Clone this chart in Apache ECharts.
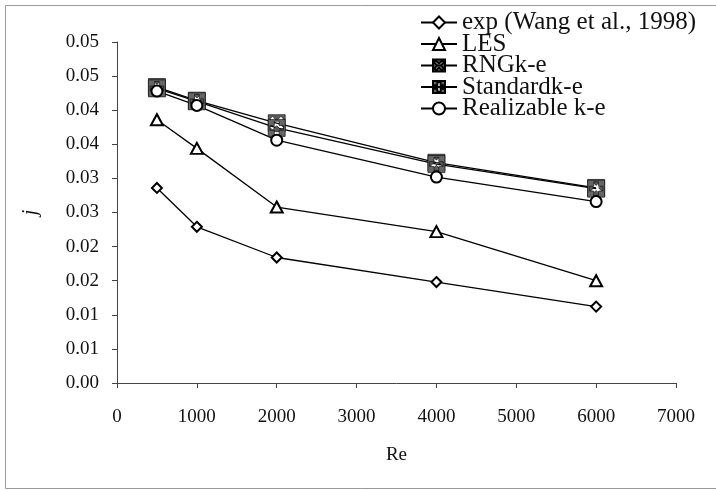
<!DOCTYPE html>
<html>
<head>
<meta charset="utf-8">
<script src="https://cdn.jsdelivr.net/npm/echarts@6/dist/echarts.min.js"></script>
<style>
  html, body { margin: 0; padding: 0; background: #fff; }
  #myChart { width: 716px; height: 491px; }
</style>
</head>
<body>
<div id="myChart"></div>
<script>
// Re values (x)
const reValues = [500, 1000, 2000, 4000, 6000];
// j for each model
const expJ = [0.0286, 0.0229, 0.0184, 0.0148, 0.0112];
const lesJ = [0.0386, 0.0344, 0.0258, 0.0222, 0.0150];
const rngJ = [0.0434, 0.0414, 0.0381, 0.0323, 0.0286];
const stdJ = [0.0432, 0.0413, 0.0374, 0.0321, 0.0285];
const realJ = [0.0428, 0.0407, 0.0356, 0.0302, 0.0266];
const seriesNames = ['exp (Wang et al., 1998)', 'LES', 'RNGk-e', 'Standardk-e', 'Realizable k-e'];
// y tick labels as printed (0 .. 0.05 step 0.005, two decimals)
const yTickLabels = ['0.00', '0.01', '0.01', '0.02', '0.02', '0.03', '0.03', '0.04', '0.04', '0.05', '0.05'];

// square with a white X / white + cut out (inner path wound the other way)
const rngSymbol = 'path://M0,0L10,0L10,10L0,10Z M3.5,5L1,7.5L2.5,9L5,6.5L7.5,9L9,7.5L6.5,5L9,2.5L7.5,1L5,3.5L2.5,1L1,2.5Z';
const stdSymbol = 'path://M0,0L10,0L10,10L0,10Z M3.6,1L3.6,3.6L1,3.6L1,6.4L3.6,6.4L3.6,9L6.4,9L6.4,6.4L9,6.4L9,3.6L6.4,3.6L6.4,1Z';

function pairs(arr) {
  return reValues.map((x, i) => [x, arr[i]]);
}

let font = '"Liberation Serif", "Times New Roman", serif';
let myChart = echarts.init(document.getElementById('myChart'));

function lineSeries(name, data, symbol, size, item) {
  return {
    name: name,
    type: 'line',
    data: pairs(data),
    symbol: symbol,
    symbolSize: size,
    showSymbol: true,
    lineStyle: { color: '#000', width: 1.3 },
    itemStyle: item,
    emphasis: { disabled: true }
  };
}

let option = {
  animation: false,
  graphic: [
    {
      type: 'rect',
      shape: { x: 5.5, y: 5.5, width: 720, height: 483 },
      style: { fill: 'none', stroke: '#999', lineWidth: 1 },
      silent: true
    }
  ],
  grid: { left: 117, right: 40, top: 42, bottom: 108 },
  legend: {
    orient: 'vertical',
    left: 420,
    top: 10,
    padding: 0,
    itemGap: -3.5,
    itemWidth: 36,
    itemHeight: 15,
    data: seriesNames,
    textStyle: { fontFamily: font, fontSize: 25, color: '#111' }
  },
  xAxis: {
    type: 'value',
    min: 0,
    max: 7000,
    interval: 1000,
    name: 'Re',
    nameLocation: 'middle',
    nameGap: 63,
    nameTextStyle: { fontFamily: font, fontSize: 19, color: '#111' },
    axisLine: { show: true, lineStyle: { color: '#444', width: 1 } },
    axisTick: { show: true, length: 5, lineStyle: { color: '#444' } },
    axisLabel: {
      fontFamily: font, fontSize: 19, color: '#111', margin: 25,
      formatter: function (v) { return String(v); }
    },
    splitLine: { show: false }
  },
  yAxis: {
    type: 'value',
    min: 0,
    max: 0.05,
    interval: 0.005,
    name: 'j',
    nameLocation: 'middle',
    nameRotate: 90,
    nameGap: 76,
    nameTextStyle: { fontFamily: font, fontSize: 20, fontStyle: 'italic', color: '#111' },
    axisLine: { show: true, lineStyle: { color: '#444', width: 1 } },
    axisTick: { show: true, length: 5, lineStyle: { color: '#444' } },
    axisLabel: {
      fontFamily: font, fontSize: 19, color: '#111', margin: 18,
      formatter: function (v) {
        return yTickLabels[Math.round(v / 0.005)];
      }
    },
    splitLine: { show: false }
  },
  series: [
    lineSeries(seriesNames[0], expJ, 'emptyDiamond', 10, { color: '#000', borderWidth: 1.3 }),
    lineSeries(seriesNames[1], lesJ, 'emptyTriangle', [12, 11], { color: '#000', borderWidth: 1.3 }),
    lineSeries(seriesNames[2], rngJ, rngSymbol, 17, { color: '#5a5a5a', borderColor: '#000', borderWidth: 0.6 }),
    lineSeries(seriesNames[3], stdJ, stdSymbol, 17, { color: '#666', borderColor: '#000', borderWidth: 0.6 }),
    lineSeries(seriesNames[4], realJ, 'emptyCircle', 11, { color: '#000', borderWidth: 1.3 })
  ]
};

myChart.setOption(option);
</script>
</body>
</html>
